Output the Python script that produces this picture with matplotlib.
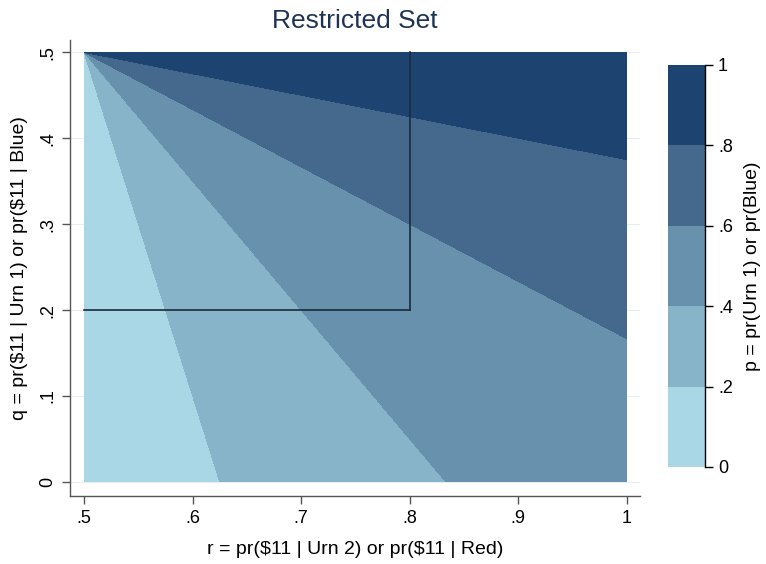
import numpy as np
import matplotlib
matplotlib.use("Agg")
import matplotlib.pyplot as plt

plt.rcParams["font.family"] = ["Liberation Sans", "DejaVu Sans"]

# contour levels of p and their fill colours (light -> dark)
levels = [0.0, 0.2, 0.4, 0.6, 0.8, 1.0]
level_labels = ["0", ".2", ".4", ".6", ".8", "1"]
fill_colors = ["#a9d7e5", "#87b4c9", "#6891ae", "#45698c", "#1d4470"]

# ranges of the two probabilities
r_range = (0.5, 1.0)
q_range = (0.0, 0.5)
x_ticks = [0.5, 0.6, 0.7, 0.8, 0.9, 1.0]
x_ticklabels = [".5", ".6", ".7", ".8", ".9", "1"]
y_ticks = [0.0, 0.1, 0.2, 0.3, 0.4, 0.5]
y_ticklabels = ["0", ".1", ".2", ".3", ".4", ".5"]

# restricted set corner (r, q)
corner_r = 0.8
corner_q = 0.2


def p_of(r, q):
    """Prior on urn 1 that makes the bettor indifferent."""
    with np.errstate(divide="ignore", invalid="ignore"):
        return (r - 0.5) / (r - q)


r = np.linspace(r_range[0], r_range[1], 1001)
q = np.linspace(q_range[0], q_range[1], 1001)
R, Q = np.meshgrid(r, q)
P = np.clip(p_of(R, Q), 0, 1)

fig = plt.figure(figsize=(7.66, 5.64), dpi=100)
ax = fig.add_axes([0.0914, 0.1206, 0.744, 0.808])

ax.grid(axis="y", color="#e6eef0", lw=0.8, zorder=0)
ax.set_axisbelow(True)
cs = ax.contourf(R, Q, P, levels=levels, colors=fill_colors, zorder=1)

ax.plot([r_range[0], corner_r], [corner_q, corner_q], color="#1b2a3c", lw=1.2, zorder=3)
ax.plot([corner_r, corner_r], [corner_q, q_range[1]], color="#1b2a3c", lw=1.2, zorder=3)

ax.set_xlim(0.487, 1.012)
ax.set_ylim(-0.0163, 0.514)
ax.set_xticks(x_ticks)
ax.set_xticklabels(x_ticklabels)
ax.set_yticks(y_ticks)
ax.set_yticklabels(y_ticklabels, rotation=90, va="center")
for s in ["top", "right"]:
    ax.spines[s].set_visible(False)
for s in ["left", "bottom"]:
    ax.spines[s].set_color("#555555")
    ax.spines[s].set_linewidth(1.0)
ax.tick_params(axis="both", labelsize=13, length=6, width=1, color="#555555", pad=4)
ax.set_xlabel(r"r = pr(\$11 | Urn 2) or pr(\$11 | Red)", fontsize=14, labelpad=10)
ax.set_ylabel(r"q = pr(\$11 | Urn 1) or pr(\$11 | Blue)", fontsize=14, labelpad=8)
ax.set_title("Restricted Set", fontsize=19, color="#1f3354", pad=9)

cax = fig.add_axes([0.872, 0.172, 0.048, 0.713])
cb = fig.colorbar(cs, cax=cax, ticks=levels)
cb.outline.set_visible(False)
cax.set_yticklabels(level_labels)
cax.plot([1, 1], [0, 1], transform=cax.transAxes, color="black", lw=1.0, clip_on=False)
cax.tick_params(labelsize=13, length=6, width=1, direction="out")
cb.set_label("p = pr(Urn 1) or pr(Blue)", fontsize=14, labelpad=8)

fig.savefig("out.png", dpi=100, facecolor="white")
